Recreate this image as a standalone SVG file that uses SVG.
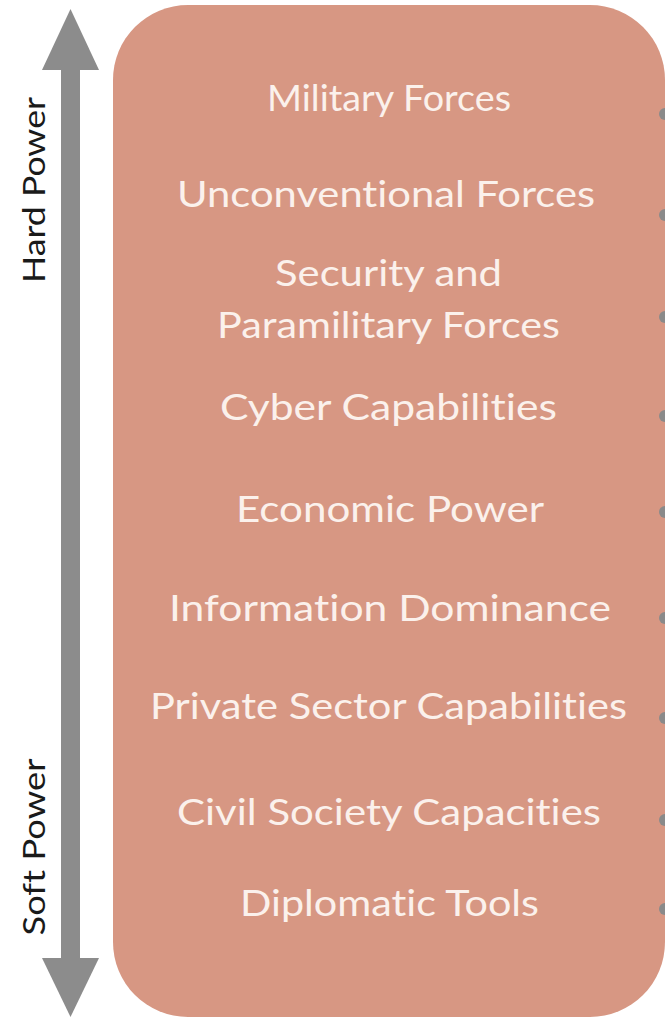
<svg xmlns="http://www.w3.org/2000/svg" width="667" height="1019" viewBox="0 0 667 1019">
<style>
.item{font-family:Lato,"Open Sans",sans-serif;font-weight:400;font-size:36px;fill:#FBF1EC;text-anchor:middle;font-variant-ligatures:none}
.side{font-family:Lato,"Liberation Sans",Arial,sans-serif;font-size:30px;fill:#1a1a1a;text-anchor:middle;font-variant-ligatures:none}
.dot{fill:#8A8A8A}
</style>
<defs>
<clipPath id="clipR"><rect x="0" y="0" width="665" height="1019"/></clipPath>
</defs>
<rect width="667" height="1019" fill="#ffffff"/>
<g id="scale-arrow">
<rect x="61" y="68" width="19" height="892" fill="#8C8C8C"/>
<polygon points="70.5,9 99,70 42,70" fill="#8C8C8C"/>
<polygon points="70.5,1017 99,958 42,958" fill="#8C8C8C"/>
</g>
<g id="label-hard"><text class="side" transform="translate(45,190) rotate(-90)" textLength="186" lengthAdjust="spacingAndGlyphs">Hard Power</text></g>
<g id="label-soft"><text class="side" transform="translate(45,847) rotate(-90)" textLength="177" lengthAdjust="spacingAndGlyphs">Soft Power</text></g>
<g id="panel">
<rect x="113" y="5" width="552" height="1012" rx="75" ry="75" fill="#D79783"/>
</g>
<g id="connectors" clip-path="url(#clipR)">
<circle class="dot" cx="665" cy="114" r="6"/>
<circle class="dot" cx="665" cy="215" r="6"/>
<circle class="dot" cx="665" cy="317" r="6"/>
<circle class="dot" cx="665" cy="416" r="6"/>
<circle class="dot" cx="665" cy="512" r="6"/>
<circle class="dot" cx="665" cy="618" r="6"/>
<circle class="dot" cx="665" cy="718" r="6"/>
<circle class="dot" cx="665" cy="820" r="6"/>
<circle class="dot" cx="665" cy="909" r="6"/>
</g>
<g id="n1"><text class="item" x="389" y="111" textLength="244" lengthAdjust="spacingAndGlyphs">Military Forces</text></g>
<g id="n2"><text class="item" x="386" y="207" textLength="418" lengthAdjust="spacingAndGlyphs">Unconventional Forces</text></g>
<g id="n3"><text class="item" x="388.5" y="286" textLength="227" lengthAdjust="spacingAndGlyphs">Security and</text><text class="item" x="388.5" y="338" textLength="343" lengthAdjust="spacingAndGlyphs">Paramilitary Forces</text></g>
<g id="n4"><text class="item" x="388.5" y="420" textLength="337" lengthAdjust="spacingAndGlyphs">Cyber Capabilities</text></g>
<g id="n5"><text class="item" x="390" y="522" textLength="308" lengthAdjust="spacingAndGlyphs">Economic Power</text></g>
<g id="n6"><text class="item" x="390" y="621" textLength="442" lengthAdjust="spacingAndGlyphs">Information Dominance</text></g>
<g id="n7"><text class="item" x="388.5" y="719" textLength="477" lengthAdjust="spacingAndGlyphs">Private Sector Capabilities</text></g>
<g id="n8"><text class="item" x="389" y="825" textLength="424" lengthAdjust="spacingAndGlyphs">Civil Society Capacities</text></g>
<g id="n9"><text class="item" x="389.5" y="916" textLength="299" lengthAdjust="spacingAndGlyphs">Diplomatic Tools</text></g>
</svg>
